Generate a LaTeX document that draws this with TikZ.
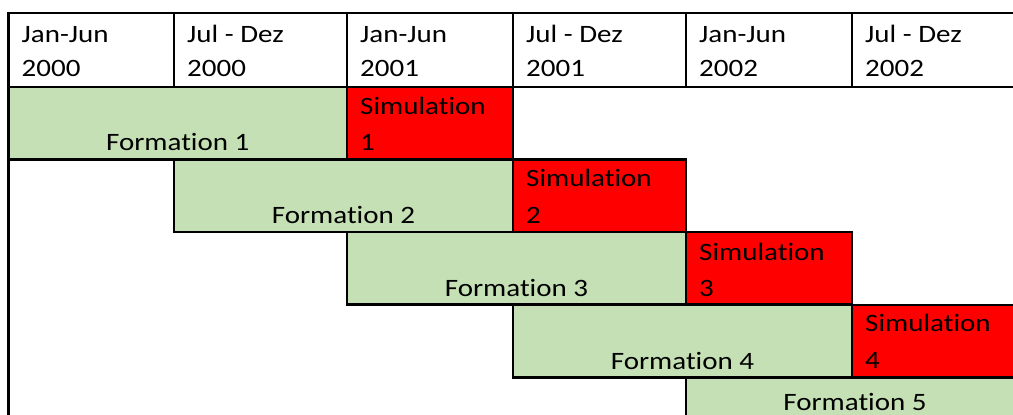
\documentclass[tikz,border=0pt]{standalone}
\usepackage{fontspec}
\setmainfont{Carlito}[FakeStretch=1.16,RawFeature={-liga;-clig;-calt;-dlig}]
\definecolor{formgreen}{HTML}{C5E0B4}
\definecolor{simred}{HTML}{FF0000}
\newcommand\FormW{Format\kern0pt ion}
\newcommand\SimW{Simulat\kern0pt ion}
\begin{document}
\begin{tikzpicture}[x=1pt,y=-1pt,
  box/.style={draw=black,line width=2.8pt,anchor=north west,inner sep=0pt,outer sep=0pt},
  hdr/.style={box,fill=white,minimum height=74},
  form/.style={box,fill=formgreen,minimum height=72.5},
  sim/.style={box,fill=simred,minimum height=72.5},
  txt/.style={inner sep=0pt,font=\fontsize{25}{33.7}\selectfont,align=left},
  simtxt/.style={inner sep=0pt,font=\fontsize{25}{36.5}\selectfont,align=left,anchor=base west},
]
\useasboundingbox (0,0) rectangle (1013,415);
\clip (0,0) rectangle (1013,415);
% header
\node[hdr,minimum width=165.5] (h1) at (8.5,13) {};
\node[hdr,minimum width=173] (h2) at (174,13) {};
\node[hdr,minimum width=166] (h3) at (347,13) {};
\node[hdr,minimum width=173] (h4) at (513,13) {};
\node[hdr,minimum width=166] (h5) at (686,13) {};
\node[hdr,minimum width=172] (h6) at (852,13) {};
% left border
\coordinate (lt) at (8.5,87);
\coordinate (lb) at (8.5,430);
\draw[line width=2.8pt] (lt) -- (lb);
% rows
\node[form,minimum width=338.5] (f1) at (8.5,87) {};
\node[sim,minimum width=166] (s1) at (347,87) {};
\node[form,minimum width=339] (f2) at (174,159.5) {};
\node[sim,minimum width=173] (s2) at (513,159.5) {};
\node[form,minimum width=339] (f3) at (347,232) {};
\node[sim,minimum width=166] (s3) at (686,232) {};
\node[form,minimum width=339] (f4) at (513,305) {};
\node[sim,minimum width=172] (s4) at (852,305) {};
\node[form,minimum width=338,minimum height=80] (f5) at (686,378) {};
% header texts (anchor at last line baseline)
\node[txt,anchor=base west] (t1) at (21.5,76) {Jan-Jun\\2000};
\node[txt,anchor=base west] (t2) at (187,76) {Jul - Dez\\2000};
\node[txt,anchor=base west] (t3) at (360,76) {Jan-Jun\\2001};
\node[txt,anchor=base west] (t4) at (526,76) {Jul - Dez\\2001};
\node[txt,anchor=base west] (t5) at (699,76) {Jan-Jun\\2002};
\node[txt,anchor=base west] (t6) at (865,76) {Jul - Dez\\2002};
% formation texts
\node[txt,anchor=base] (ft1) at (177.75,150) {\FormW{} 1};
\node[txt,anchor=base] (ft2) at (343.5,223) {\FormW{} 2};
\node[txt,anchor=base] (ft3) at (516.5,296) {\FormW{} 3};
\node[txt,anchor=base] (ft4) at (682.5,369) {\FormW{} 4};
\node[txt,anchor=base] (ft5) at (855,410) {\FormW{} 5};
% simulation texts
\node[simtxt] (st1) at (360,150.5) {\SimW\\1};
\node[simtxt] (st2) at (526,223) {\SimW\\2};
\node[simtxt] (st3) at (699,296.5) {\SimW\\3};
\node[simtxt] (st4) at (865,368) {\SimW\\4};
\end{tikzpicture}
\end{document}
